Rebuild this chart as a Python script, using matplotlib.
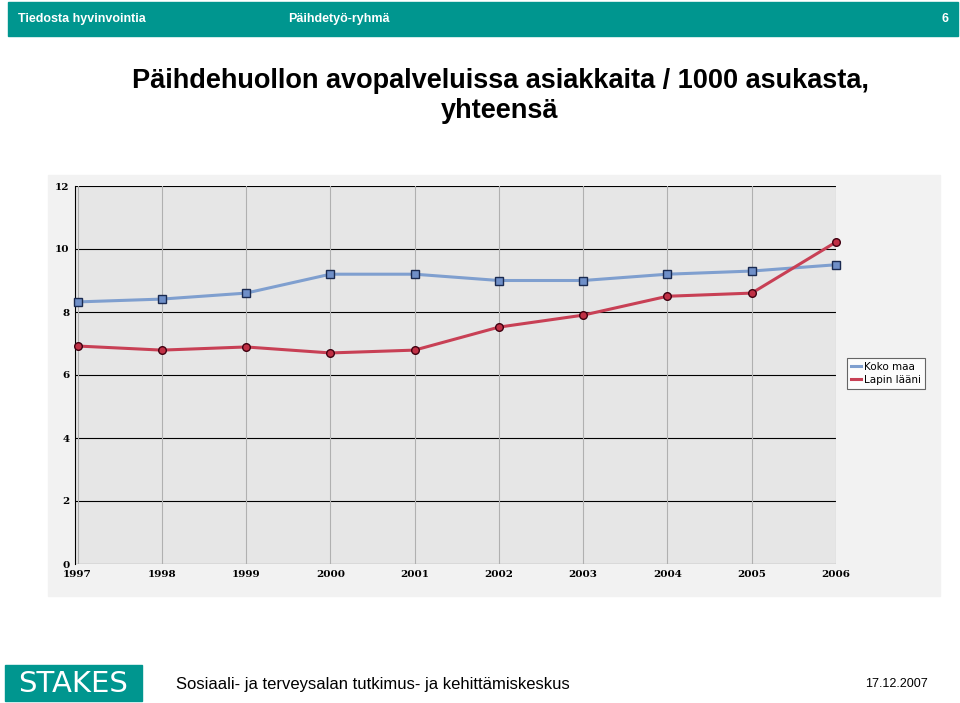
import matplotlib.pyplot as plt
from matplotlib.patches import Rectangle

years = [1997, 1998, 1999, 2000, 2001, 2002, 2003, 2004, 2005, 2006]
koko_maa = [8.32, 8.41, 8.6, 9.2, 9.2, 9.0, 9.0, 9.2, 9.3, 9.5]
lapin_laani = [6.92, 6.79, 6.89, 6.7, 6.79, 7.52, 7.9, 8.5, 8.6, 10.22]
y_ticks = [0, 2, 4, 6, 8, 10, 12]

W, H = 960, 703
fig = plt.figure(figsize=(W / 100, H / 100), dpi=100)
teal = '#00968f'

def box(x0, y0, x1, y1, **kw):
    fig.patches.append(Rectangle((x0 / W, 1 - y1 / H), (x1 - x0) / W, (y1 - y0) / H,
                                 transform=fig.transFigure, zorder=-5, **kw))

# header bar
box(8, 2, 958, 36, color=teal)
fig.text(18 / W, 1 - 19 / H, 'Tiedosta hyvinvointia', color='white', fontsize=9, fontweight='bold', va='center', family='Liberation Sans')
fig.text(288 / W, 1 - 19 / H, 'Päihdetyö-ryhmä', color='white', fontsize=9, fontweight='bold', va='center', family='Liberation Sans')
fig.text(948 / W, 1 - 19 / H, '6', color='white', fontsize=9, fontweight='bold', va='center', ha='right', family='Liberation Sans')

fig.text(500 / W, 1 - 96 / H, 'Päihdehuollon avopalveluissa asiakkaita / 1000 asukasta,\nyhteensä',
         ha='center', va='center', fontsize=19.5, fontweight='bold', family='Liberation Sans', linespacing=1.15)

# chart background
box(48, 175, 940, 596, color='#f2f2f2')

ax = fig.add_axes([75 / W, 1 - 564 / H, (836 - 75) / W, (564 - 186) / H])
ax.set_facecolor('#e6e6e6')
ax.plot(years, koko_maa, color='#7f9fcf', lw=2.2, marker='s', ms=5.5, mfc='#6f8fc8', mec='#1a2a50', mew=1, label='Koko maa', zorder=3, clip_on=False)
ax.plot(years, lapin_laani, color='#c84055', lw=2.2, marker='o', ms=5.5, mfc='#c03045', mec='#400010', mew=1, label='Lapin lääni', zorder=3, clip_on=False)
ax.set_xlim(1996.97, 2006.0)
ax.set_ylim(0, 12)
ax.set_xticks(years)
ax.set_yticks(y_ticks)
ax.tick_params(length=0, labelsize=7.5, pad=4)
for lab in ax.get_xticklabels() + ax.get_yticklabels():
    lab.set_family('DejaVu Serif')
    lab.set_fontweight('bold')
for y in y_ticks:
    ax.axhline(y, color='black', lw=0.8, zorder=1)
for x in years:
    ax.axvline(x, color='#b0b0b0', lw=0.8, zorder=1)
for s in ax.spines.values():
    s.set_visible(False)
ax.spines['left'].set_visible(True)
leg = ax.legend(loc='upper left', bbox_to_anchor=(1.007, 0.56), fontsize=7.5, frameon=True, fancybox=False,
                edgecolor='#404040', handlelength=1.0, borderpad=0.4, labelspacing=0.3, handletextpad=0.3)
leg.get_frame().set_linewidth(0.8)
for h in leg.get_lines():
    h.set_marker('')

# footer
box(5, 665, 142, 701, color=teal)
fig.text(73 / W, 1 - 684 / H, 'STAKES', color='white', fontsize=21, va='center', ha='center', family='DejaVu Sans Condensed')
fig.text(176 / W, 1 - 684 / H, 'Sosiaali- ja terveysalan tutkimus- ja kehittämiskeskus', fontsize=12, va='center', family='Liberation Sans')
fig.text(928 / W, 1 - 684 / H, '17.12.2007', fontsize=9, va='center', ha='right', family='Liberation Sans')

fig.savefig('out.png', dpi=100)
